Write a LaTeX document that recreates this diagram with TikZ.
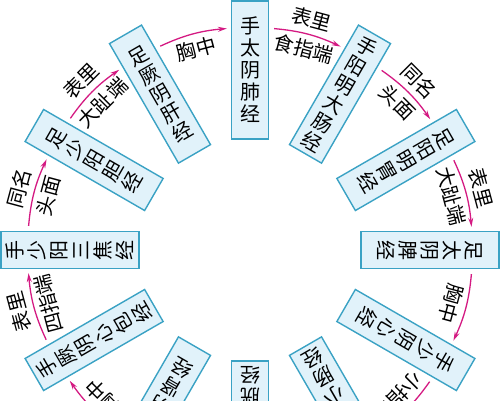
\documentclass[tikz,border=0pt]{standalone}
\usepackage{fontspec}
\setmainfont{Noto Sans CJK SC}
\usetikzlibrary{arrows.meta,calc}
\definecolor{boxfill}{HTML}{E1F2FA}
\definecolor{boxline}{HTML}{3AA2C4}
\definecolor{liumag}{HTML}{D41A82}

\begin{document}
\begin{tikzpicture}[x=1pt,y=1pt,
                    jingND/.style={rectangle,
                                   draw=boxline,
                                   fill=boxfill,
                                   line width=1.4pt,
                                   minimum width=37pt,
                                   minimum height=138pt,
                                   inner sep=2pt,
                                   align=center,
                                   font=\fontsize{20}{22}\selectfont},
                    liuArr/.style={draw=liumag,
                                   line width=1.3pt,
                                   -{Stealth[length=9pt,width=5pt]},
                                   shorten <=5pt,
                                   shorten >=4pt},
                    lbl/.style={font=\fontsize{20}{22}\selectfont,
                                sloped,
                                allow upside down,
                                inner sep=1pt}]
        \useasboundingbox (-250,-150) rectangle (250,250);
        \clip (-250,-150) rectangle (250,250);
        % the twelve channels, clockwise from the top
        \node[jingND, rotate=0]    (LU) at (90:180)   {手\\太\\阴\\肺\\经};
        \node[jingND, rotate=-30]  (LI) at (60:180)   {手\\阳\\明\\大\\肠\\经};
        \node[jingND, rotate=-60]  (ST) at (30:180)   {足\\阳\\明\\胃\\经};
        \node[jingND, rotate=-90]  (SP) at (0:180)    {足\\太\\阴\\脾\\经};
        \node[jingND, rotate=-120] (HT) at (-30:180)  {手\\少\\阴\\心\\经};
        \node[jingND, rotate=-150] (SI) at (-60:180)  {手\\太\\阳\\小\\肠\\经};
        \node[jingND, rotate=180]  (BL) at (-90:180)  {足\\太\\阳\\膀\\胱\\经};
        \node[jingND, rotate=150]  (KI) at (-120:180) {足\\少\\阴\\肾\\经};
        \node[jingND, rotate=120]  (PC) at (-150:180) {手\\厥\\阴\\心\\包\\经};
        \node[jingND, rotate=90]   (SJ) at (180:180)  {手\\少\\阳\\三\\焦\\经};
        \node[jingND, rotate=60]   (GB) at (150:180)  {足\\少\\阳\\胆\\经};
        \node[jingND, rotate=30]   (LR) at (120:180)  {足\\厥\\阴\\肝\\经};
        % flow between neighbours
        \draw[liuArr] ($(LU.east)!.6!(LU.north east)$) to[bend left=10]
            node[lbl, above=5pt] {表里} node[lbl, below=4pt] {食指端}
            ($(LI.west)!.6!(LI.north west)$);
        \draw[liuArr] ($(LI.east)!.6!(LI.north east)$) to[bend left=10]
            node[lbl, above=5pt] {同名} node[lbl, below=4pt] {头面}
            ($(ST.west)!.6!(ST.north west)$);
        \draw[liuArr] ($(ST.east)!.6!(ST.north east)$) to[bend left=10]
            node[lbl, above=5pt] {表里} node[lbl, below=4pt] {大趾端}
            ($(SP.west)!.6!(SP.north west)$);
        \draw[liuArr] ($(SP.east)!.6!(SP.north east)$) to[bend left=10]
            node[lbl, below=4pt] {胸中}
            ($(HT.west)!.6!(HT.north west)$);
        \draw[liuArr] ($(HT.east)!.6!(HT.north east)$) to[bend left=10]
            node[lbl, below=4pt] {小指端}
            ($(SI.west)!.6!(SI.north west)$);
        \draw[liuArr] ($(KI.east)!.6!(KI.north east)$) to[bend left=10]
            node[lbl, below=4pt] {胸中}
            ($(PC.west)!.6!(PC.north west)$);
        \draw[liuArr] ($(PC.east)!.6!(PC.north east)$) to[bend left=10]
            node[lbl, above=5pt] {表里} node[lbl, below=4pt] {四指端}
            ($(SJ.west)!.6!(SJ.north west)$);
        \draw[liuArr] ($(SJ.east)!.6!(SJ.north east)$) to[bend left=10]
            node[lbl, above=5pt] {同名} node[lbl, below=4pt] {头面}
            ($(GB.west)!.6!(GB.north west)$);
        \draw[liuArr] ($(GB.east)!.6!(GB.north east)$) to[bend left=10]
            node[lbl, above=5pt] {表里} node[lbl, below=4pt] {大趾端}
            ($(LR.west)!.6!(LR.north west)$);
        \draw[liuArr] ($(LR.east)!.6!(LR.north east)$) to[bend left=10]
            node[lbl, below=4pt] {胸中}
            ($(LU.west)!.6!(LU.north west)$);
\end{tikzpicture}
\end{document}
